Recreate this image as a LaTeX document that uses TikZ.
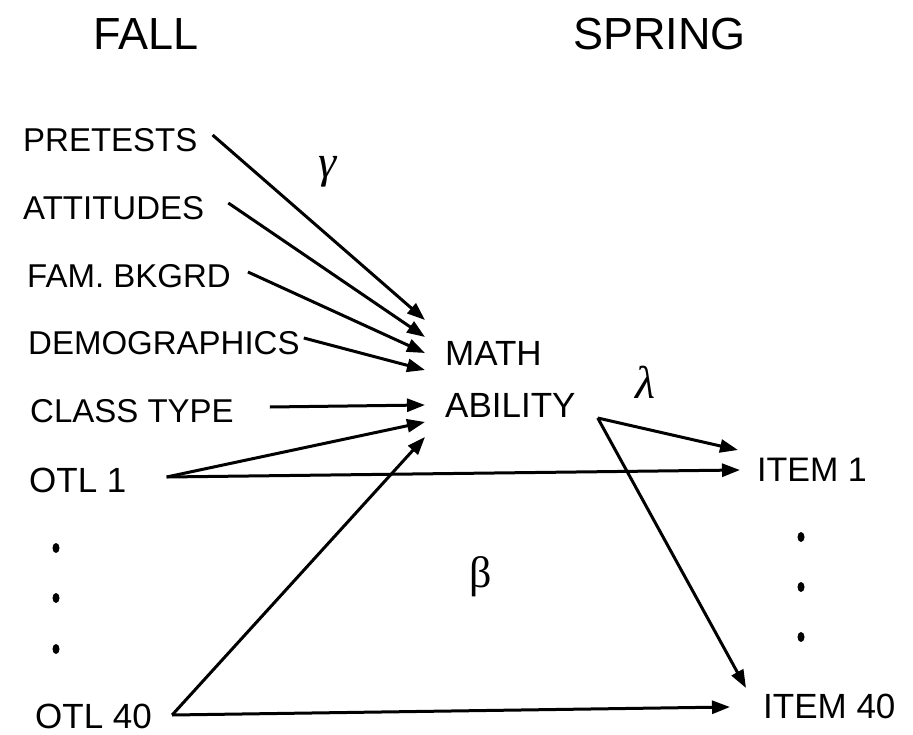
\documentclass[tikz,border=0pt]{standalone}
\usepackage{fontspec}
\setmainfont{Liberation Sans}
\newfontfamily\grk{Liberation Serif}
\usetikzlibrary{arrows.meta,shapes.geometric}
\begin{document}
\begin{tikzpicture}[x=1pt,y=-1pt,
  lbl/.style={anchor=base west,inner sep=0pt,font=\fontsize{33}{38}\selectfont},
  big/.style={anchor=base west,inner sep=0pt,font=\fontsize{35}{40}\selectfont},
  mid/.style={anchor=base west,inner sep=0pt,font=\fontsize{35}{40}\selectfont},
  head/.style={anchor=base west,inner sep=0pt,font=\fontsize{45}{50}\selectfont},
  greek/.style={inner sep=0pt},
  arr/.style={line width=3pt,-{Triangle[length=18pt,width=13pt]}},
  dotm/.style={ellipse,fill=black,minimum width=7pt,minimum height=10pt,inner sep=0pt}]
\useasboundingbox (0,0) rectangle (913,735);
% headings
\node[head] (fall) at (93,50) {FALL};
\node[head] (spring) at (573,50) {SPRING};
% left labels
\node[lbl] (pre) at (23,152) {PRETESTS};
\node[lbl] (att) at (23,220) {ATTITUDES};
\node[lbl] (fam) at (27,288) {FAM. BKGRD};
\node[lbl] (dem) at (28,355) {DEMOGRAPHICS};
\node[lbl] (cls) at (30,422) {CLASS TYPE};
\node[big] (otl1) at (29,492) {OTL 1};
\node[big] (otl40) at (35,728) {OTL 40};
% centre
\node[mid] (math) at (445,366) {MATH};
\node[mid] (abil) at (445,417) {ABILITY};
% right
\node[big,font=\fontsize{34}{40}\selectfont] (item1) at (757,481) {ITEM 1};
\node[big] (item40) at (763,718) {ITEM 40};
% greek
\node[greek,font=\fontsize{46}{50}\selectfont\grk\itshape] (gam) at (328,172) {γ};
\node[greek,font=\fontsize{46}{50}\selectfont\grk\itshape] (lam) at (645,382) {λ};
\node[greek,font=\fontsize{44}{48}\selectfont\grk] (bet) at (481,577) {β};
% dots
\node[dotm] (dl1) at (56,548) {};
\node[dotm] (dl2) at (56,598) {};
\node[dotm] (dl3) at (56,649) {};
\node[dotm] (dr1) at (801,537) {};
\node[dotm] (dr2) at (801,587) {};
\node[dotm] (dr3) at (801,637) {};
% arrows into MATH ABILITY
\draw[arr] ([shift={(15,-17)}]pre.base east) -- ([shift={(-20,-46)}]math.base west);
\draw[arr] ([shift={(24,-17)}]att.base east) -- ([shift={(-20,-29)}]math.base west);
\draw[arr] ([shift={(17,-16)}]fam.base east) -- ([shift={(-20,-13)}]math.base west);
\draw[arr] ([shift={(4,-17)}]dem.base east) -- ([shift={(-20,4)}]math.base west);
\draw[arr] ([shift={(36,-15)}]cls.base east) -- ([shift={(-20,-12)}]abil.base west);
\draw[arr] ([shift={(40,-15)}]otl1.base east) -- ([shift={(-20,5)}]abil.base west);
\draw[arr] ([shift={(20,-13)}]otl40.base east) -- ([shift={(-20,20)}]abil.base west);
% arrows to items
\draw[arr] ([shift={(22,1)}]abil.base east) -- ([shift={(-19,-31)}]item1.base west);
\draw[arr] ([shift={(40,-15)}]otl1.base east) -- ([shift={(-17,-11)}]item1.base west);
\draw[arr] ([shift={(22,1)}]abil.base east) -- ([shift={(-17,-30)}]item40.base west);
\draw[arr] ([shift={(20,-13)}]otl40.base east) -- ([shift={(-33,-11)}]item40.base west);
\end{tikzpicture}
\end{document}
